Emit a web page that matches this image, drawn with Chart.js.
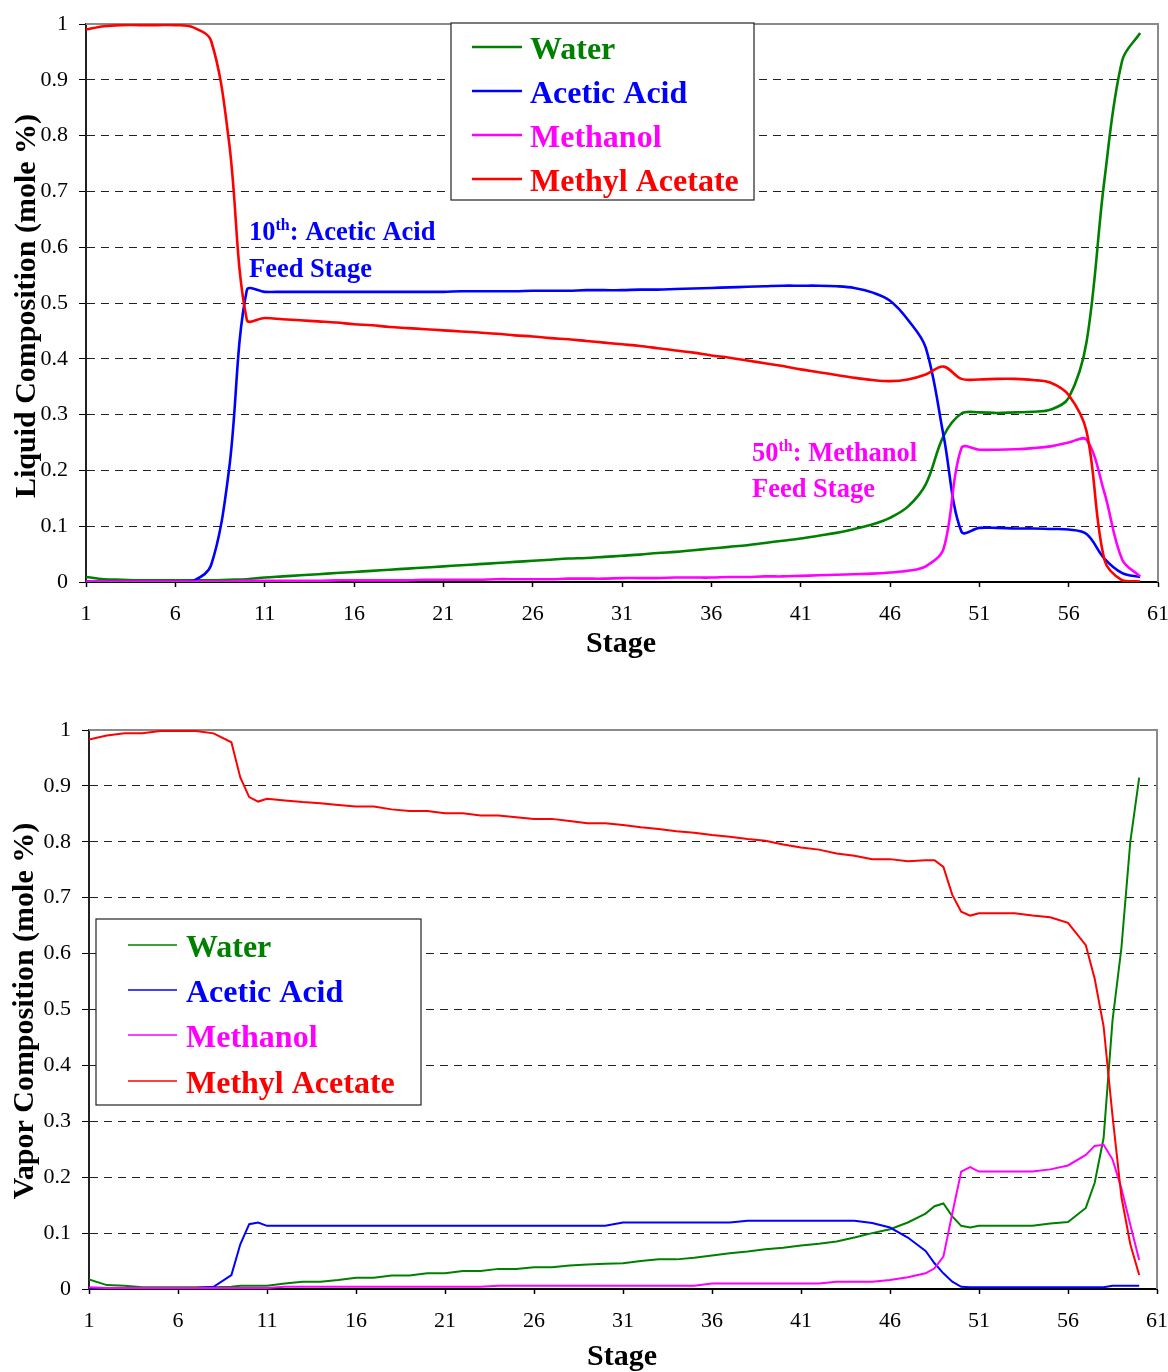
<!DOCTYPE html>
<html>
<head>
<meta charset="utf-8">
<title>Liquid and vapor composition profiles</title>
<script src="https://cdn.jsdelivr.net/npm/chart.js@4.4.0/dist/chart.umd.min.js"></script>
<style>
  html, body { margin: 0; padding: 0; background: #fff; }
  body { width: 1168px; height: 1372px; position: relative; overflow: hidden; }
  .panel { position: absolute; left: 0; width: 1168px; }
</style>
</head>
<body>
<div class="panel" style="top:0;height:680px"><canvas id="liquidChart" width="1168" height="680"></canvas></div>
<div class="panel" style="top:680px;height:692px"><canvas id="vaporChart" width="1168" height="692"></canvas></div>
<script>
// x axis tick labels (stage numbers)
var stageTicks = [1, 6, 11, 16, 21, 26, 31, 36, 41, 46, 51, 56, 61];

// ---- liquid composition, one value per stage ----
var liquidStage = [
  1, 2, 3, 4, 5, 6, 7, 8, 9, 10,
  11, 12, 13, 14, 15, 16, 17, 18, 19, 20,
  21, 22, 23, 24, 25, 26, 27, 28, 29, 30,
  31, 32, 33, 34, 35, 36, 37, 38, 39, 40,
  41, 42, 43, 44, 45, 46, 47, 48, 49, 50,
  51, 52, 53, 54, 55, 56, 57, 58, 59, 60
];
var liquidWater = [
  0.009, 0.005, 0.004, 0.003, 0.003, 0.003, 0.003, 0.003, 0.004, 0.005,
  0.008, 0.010, 0.012, 0.014, 0.016, 0.018, 0.020, 0.022, 0.024, 0.026,
  0.028, 0.030, 0.032, 0.034, 0.036, 0.038, 0.040, 0.042, 0.043, 0.045,
  0.047, 0.049, 0.052, 0.054, 0.057, 0.060, 0.063, 0.066, 0.070, 0.074,
  0.078, 0.083, 0.088, 0.095, 0.103, 0.115, 0.135, 0.175, 0.262, 0.302,
  0.304, 0.303, 0.304, 0.305, 0.309, 0.330, 0.430, 0.720, 0.935, 0.984
];
var liquidAcetic = [
  0.001, 0.001, 0.001, 0.001, 0.001, 0.001, 0.002, 0.030, 0.200, 0.523,
  0.520, 0.520, 0.520, 0.520, 0.520, 0.520, 0.520, 0.520, 0.520, 0.520,
  0.520, 0.521, 0.521, 0.521, 0.521, 0.522, 0.522, 0.522, 0.523, 0.523,
  0.523, 0.524, 0.524, 0.525, 0.526, 0.527, 0.528, 0.529, 0.530, 0.531,
  0.531, 0.531, 0.530, 0.527, 0.519, 0.504, 0.470, 0.420, 0.262, 0.090,
  0.097, 0.097, 0.096, 0.096, 0.095, 0.094, 0.086, 0.042, 0.016, 0.009
];
var liquidMethanol = [
  0.001, 0.001, 0.001, 0.001, 0.001, 0.001, 0.001, 0.001, 0.001, 0.002,
  0.002, 0.002, 0.002, 0.002, 0.003, 0.003, 0.003, 0.003, 0.003, 0.004,
  0.004, 0.004, 0.004, 0.005, 0.005, 0.005, 0.005, 0.006, 0.006, 0.006,
  0.007, 0.007, 0.007, 0.008, 0.008, 0.008, 0.009, 0.009, 0.010, 0.010,
  0.011, 0.012, 0.013, 0.014, 0.015, 0.017, 0.020, 0.028, 0.060, 0.240,
  0.237, 0.237, 0.238, 0.240, 0.243, 0.250, 0.255, 0.160, 0.040, 0.010
];
var liquidMeOAc = [
  0.990, 0.996, 0.998, 0.998, 0.998, 0.998, 0.994, 0.970, 0.790, 0.470,
  0.473, 0.471, 0.469, 0.467, 0.465, 0.462, 0.460, 0.457, 0.455, 0.453,
  0.451, 0.449, 0.447, 0.445, 0.442, 0.440, 0.437, 0.435, 0.432, 0.429,
  0.426, 0.423, 0.419, 0.415, 0.411, 0.406, 0.402, 0.397, 0.392, 0.387,
  0.381, 0.376, 0.371, 0.366, 0.362, 0.360, 0.363, 0.372, 0.386, 0.364,
  0.363, 0.364, 0.364, 0.362, 0.357, 0.335, 0.270, 0.040, 0.003, 0.001
];

// ---- vapor composition (extra half stages where it moves fast) ----
var vaporStage = [
  1, 2, 3, 4, 5, 6, 7, 8, 9,
  9.5, 10, 10.5, 11,
  12, 13, 14, 15, 16, 17, 18, 19, 20, 21,
  22, 23, 24, 25, 26, 27, 28, 29, 30, 31,
  32, 33, 34, 35, 36, 37, 38, 39, 40, 41,
  42, 43, 44, 45, 46, 47, 48,
  48.5, 49, 49.5, 50, 50.5,
  51, 52, 53, 54, 55, 56, 57,
  57.5, 58, 58.5, 59, 59.5, 60
];
var vaporWater = [
  0.017, 0.007, 0.006, 0.003, 0.003, 0.003, 0.003, 0.003, 0.004,
  0.006, 0.006, 0.006, 0.006,
  0.010, 0.013, 0.013, 0.016, 0.020, 0.020, 0.024, 0.024, 0.028, 0.028,
  0.032, 0.032, 0.036, 0.036, 0.039, 0.039, 0.042, 0.044, 0.045, 0.046,
  0.050, 0.053, 0.053, 0.056, 0.060, 0.064, 0.067, 0.071, 0.074, 0.078,
  0.081, 0.085, 0.092, 0.100, 0.107, 0.119, 0.135,
  0.148, 0.153, 0.130, 0.113, 0.110,
  0.113, 0.113, 0.113, 0.113, 0.117, 0.120, 0.145,
  0.190, 0.270, 0.480, 0.610, 0.800, 0.915
];
var vaporAcetic = [
  0.002, 0.002, 0.002, 0.002, 0.002, 0.002, 0.002, 0.004, 0.025,
  0.080, 0.116, 0.119, 0.113,
  0.113, 0.113, 0.113, 0.113, 0.113, 0.113, 0.113, 0.113, 0.113, 0.113,
  0.113, 0.113, 0.113, 0.113, 0.113, 0.113, 0.113, 0.113, 0.113, 0.119,
  0.119, 0.119, 0.119, 0.119, 0.119, 0.119, 0.122, 0.122, 0.122, 0.122,
  0.122, 0.122, 0.122, 0.118, 0.110, 0.092, 0.068,
  0.046, 0.028, 0.013, 0.004, 0.003,
  0.003, 0.003, 0.003, 0.003, 0.003, 0.003, 0.003,
  0.003, 0.003, 0.006, 0.006, 0.006, 0.006
];
var vaporMethanol = [
  0.003, 0.002, 0.002, 0.002, 0.002, 0.002, 0.002, 0.002, 0.002,
  0.002, 0.002, 0.002, 0.002,
  0.004, 0.004, 0.004, 0.004, 0.004, 0.004, 0.004, 0.004, 0.004, 0.004,
  0.004, 0.004, 0.006, 0.006, 0.006, 0.006, 0.006, 0.006, 0.006, 0.006,
  0.006, 0.006, 0.006, 0.006, 0.010, 0.010, 0.010, 0.010, 0.010, 0.010,
  0.010, 0.013, 0.013, 0.013, 0.016, 0.021, 0.028,
  0.037, 0.058, 0.135, 0.210, 0.218,
  0.210, 0.210, 0.210, 0.210, 0.214, 0.221, 0.240,
  0.256, 0.258, 0.232, 0.180, 0.115, 0.052
];
var vaporMeOAc = [
  0.983, 0.990, 0.994, 0.994, 0.998, 0.998, 0.998, 0.994, 0.978,
  0.915, 0.880, 0.872, 0.877,
  0.874, 0.871, 0.869, 0.866, 0.863, 0.863, 0.858, 0.855, 0.855, 0.851,
  0.851, 0.847, 0.847, 0.844, 0.841, 0.841, 0.837, 0.833, 0.833, 0.830,
  0.826, 0.823, 0.819, 0.816, 0.812, 0.809, 0.805, 0.802, 0.795, 0.790,
  0.786, 0.779, 0.775, 0.769, 0.769, 0.765, 0.767,
  0.767, 0.755, 0.705, 0.675, 0.668,
  0.672, 0.672, 0.672, 0.668, 0.665, 0.655, 0.615,
  0.555, 0.470, 0.310, 0.165, 0.080, 0.025
];

var seriesNames = ['Water', 'Acetic Acid', 'Methanol', 'Methyl Acetate'];
var seriesColors = ['#008000', '#0000FF', '#FF00FF', '#FF0000'];

var SERIF = '"Liberation Serif", "Times New Roman", serif';

function toPoints(xs, ys) {
  var pts = [];
  for (var i = 0; i < xs.length; i++) pts.push({x: xs[i], y: ys[i]});
  return pts;
}

// frame, titles, legend box and notes drawn on the canvas
function decorPlugin(d) {
  return {
    id: 'decor',
    beforeDatasetsDraw: function(chart) {
      var ctx = chart.ctx, a = chart.chartArea;
      ctx.save();
      ctx.strokeStyle = '#8a8a8a';
      ctx.lineWidth = 2;
      ctx.beginPath();
      ctx.moveTo(a.left, a.top);
      ctx.lineTo(a.right, a.top);
      ctx.lineTo(a.right, a.bottom);
      ctx.stroke();
      ctx.restore();
    },
    afterDraw: function(chart) {
      var ctx = chart.ctx;
      ctx.save();
      ctx.fillStyle = '#000';
      ctx.font = 'bold 30px ' + SERIF;
      ctx.textAlign = 'center';
      ctx.textBaseline = 'alphabetic';
      ctx.save();
      ctx.translate(d.yTitleX, d.yTitleY);
      ctx.rotate(-Math.PI / 2);
      ctx.fillText(d.yTitle, 0, 0);
      ctx.restore();
      ctx.fillText('Stage', d.xTitleX, d.xTitleY);

      // legend
      var L = d.legend;
      ctx.fillStyle = '#fff';
      ctx.fillRect(L.x, L.y, L.w, L.h);
      ctx.strokeStyle = '#222';
      ctx.lineWidth = 1.2;
      ctx.strokeRect(L.x, L.y, L.w, L.h);
      ctx.textAlign = 'left';
      ctx.font = 'bold 32px ' + SERIF;
      for (var i = 0; i < seriesNames.length; i++) {
        var ry = L.rows[i];
        ctx.strokeStyle = seriesColors[i];
        ctx.lineWidth = L.lineWidth;
        ctx.beginPath();
        ctx.moveTo(L.x1, ry);
        ctx.lineTo(L.x2, ry);
        ctx.stroke();
        ctx.fillStyle = seriesColors[i];
        ctx.fillText(seriesNames[i], L.textX, ry + 12);
      }

      // feed stage notes
      (d.notes || []).forEach(function(n) {
        ctx.fillStyle = n.color;
        ctx.font = 'bold 26.5px ' + SERIF;
        ctx.fillText(n.lead, n.x, n.y);
        var x = n.x + ctx.measureText(n.lead).width;
        ctx.font = 'bold 16px ' + SERIF;
        ctx.fillText('th', x, n.y - 10);
        x += ctx.measureText('th').width;
        ctx.font = 'bold 26.5px ' + SERIF;
        ctx.fillText(n.rest, x, n.y);
        ctx.fillText('Feed Stage', n.x, n.y2);
      });
      ctx.restore();
    }
  };
}

function buildChart(id, stages, values, o) {
  var datasets = [];
  for (var i = 0; i < values.length; i++) {
    datasets.push({
      label: seriesNames[i],
      data: toPoints(stages, values[i]),
      borderColor: seriesColors[i],
      backgroundColor: seriesColors[i],
      borderWidth: o.lineWidth,
      pointRadius: 0,
      tension: o.tension,
      fill: false,
      order: values.length - i
    });
  }
  var tickFont = {family: SERIF, size: 22};
  return new Chart(document.getElementById(id), {
    type: 'line',
    data: {datasets: datasets},
    options: {
      responsive: false,
      animation: false,
      devicePixelRatio: 1,
      layout: {padding: {left: 0, right: o.padRight, top: o.padTop, bottom: 0}},
      plugins: {legend: {display: false}, tooltip: {enabled: false}},
      scales: {
        x: {
          type: 'linear', min: 1, max: 61,
          afterBuildTicks: function(s) { s.ticks = stageTicks.map(function(v) { return {value: v}; }); },
          afterFit: function(s) { s.height = o.xAxisHeight; s.paddingLeft = 0; s.paddingRight = 0; },
          ticks: {font: tickFont, color: '#000', padding: o.xTickPad, maxRotation: 0, autoSkip: false},
          grid: {drawOnChartArea: false, tickLength: 5, tickColor: '#000', tickWidth: 1.5},
          border: {color: '#000', width: 2}
        },
        y: {
          min: 0, max: 1,
          afterFit: function(s) { s.width = o.yAxisWidth; s.paddingTop = 0; s.paddingBottom = 0; },
          ticks: {
            stepSize: 0.1, font: tickFont, color: '#000', padding: 11,
            callback: function(v) {
              if (Math.abs(v) < 1e-6) return '0';
              if (Math.abs(v - 1) < 1e-6) return '1';
              return v.toFixed(1);
            }
          },
          grid: {
            color: function(c) {
              var v = c.tick ? c.tick.value : 0;
              return (v < 0.01 || v > 0.99) ? 'rgba(0,0,0,0)' : '#222';
            },
            tickColor: '#000', tickLength: 7, lineWidth: 1
          },
          border: {color: '#222', width: 2, dash: [8, 6]}
        }
      }
    },
    plugins: [decorPlugin(o.decor)]
  });
}

buildChart('liquidChart', liquidStage,
  [liquidWater, liquidAcetic, liquidMethanol, liquidMeOAc], {
    lineWidth: 2.6, tension: 0.35, padRight: 10, padTop: 24,
    xAxisHeight: 98, yAxisWidth: 86, xTickPad: 14,
    decor: {
      yTitle: 'Liquid Composition (mole %)', yTitleX: 35, yTitleY: 306,
      xTitleX: 621, xTitleY: 652,
      legend: {x: 451, y: 23, w: 303, h: 177, x1: 472, x2: 522, textX: 530,
               rows: [47, 91, 135, 179], lineWidth: 2.6},
      notes: [
        {color: '#0000FF', x: 249, y: 240, y2: 277, lead: '10', rest: ': Acetic Acid'},
        {color: '#FF00FF', x: 752, y: 461, y2: 497, lead: '50', rest: ': Methanol'}
      ]
    }
  });

buildChart('vaporChart', vaporStage,
  [vaporWater, vaporAcetic, vaporMethanol, vaporMeOAc], {
    lineWidth: 2, tension: 0, padRight: 11, padTop: 50,
    xAxisHeight: 83, yAxisWidth: 89, xTickPad: 14,
    decor: {
      yTitle: 'Vapor Composition (mole %)', yTitleX: 33, yTitleY: 331,
      xTitleX: 622, xTitleY: 685,
      legend: {x: 96, y: 239, w: 325, h: 186, x1: 128, x2: 177, textX: 186,
               rows: [265, 310, 355, 401], lineWidth: 1.6},
      notes: []
    }
  });
</script>
</body>
</html>
